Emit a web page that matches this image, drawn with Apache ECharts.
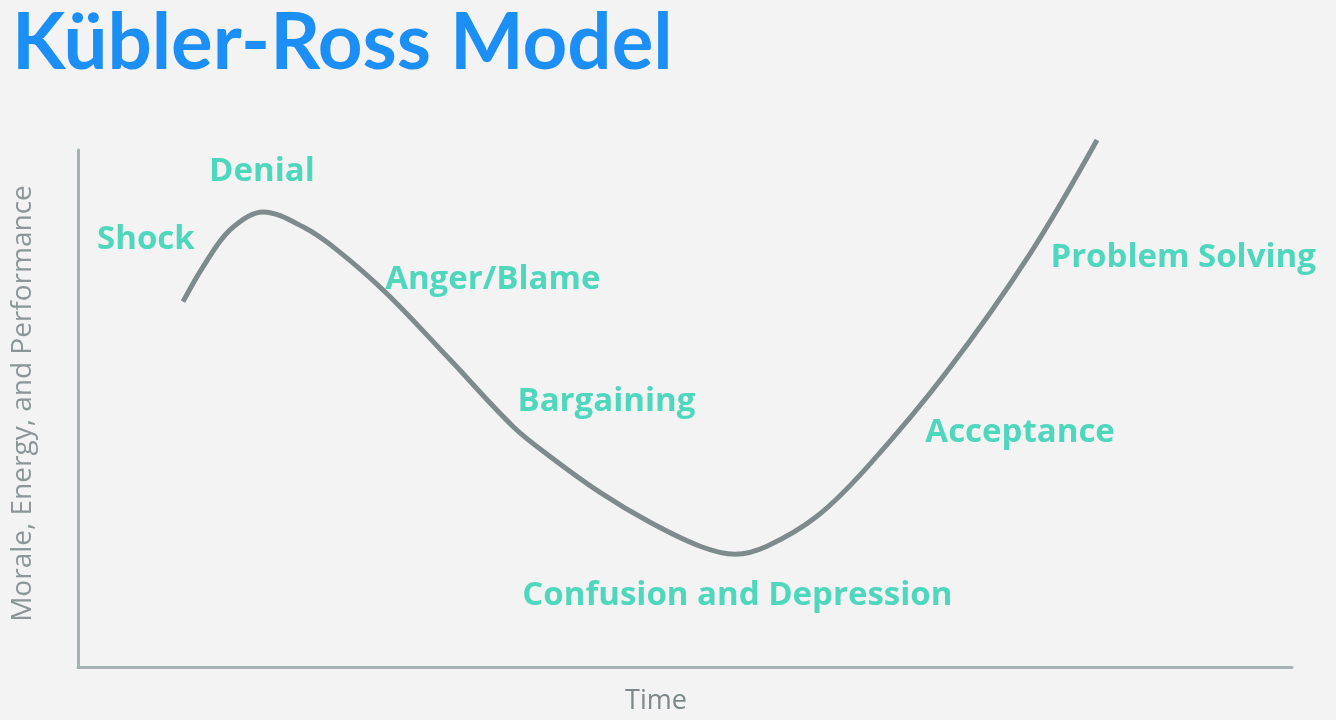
<!DOCTYPE html>
<html>
<head>
<meta charset="utf-8">
<script src="https://cdn.jsdelivr.net/npm/echarts@6/dist/echarts.min.js"></script>
<style>
html,body{margin:0;padding:0;background:#f3f3f3;}
#chart{width:1336px;height:720px;}
</style>
</head>
<body>
<div id="chart"></div>
<script>
// Curve (time, morale) in chart units
const curveX = [8.65, 10.30, 12.52, 15.24, 18.53, 21.33, 25.45, 30.64, 35.83, 38.88, 43.00, 47.12, 51.24, 54.12, 56.75, 60.87, 64.99, 71.58, 78.42, 83.94];
const curveY = [70.66, 77.41, 84.56, 88.03, 85.14, 80.69, 72.20, 59.46, 46.53, 40.73, 33.78, 27.99, 23.36, 21.81, 23.36, 29.15, 38.61, 57.14, 79.92, 101.93];

// Stage names and the chart-unit anchor of each label (left edge, middle)
const stageNames = ['Shock', 'Denial', 'Anger/Blame', 'Bargaining', 'Confusion and Depression', 'Acceptance', 'Problem Solving'];
const stageX = [1.57, 10.8, 25.3, 36.2, 36.6, 69.8, 80.1];
const stageY = [82.6, 95.9, 74.9, 51.3, 13.9, 45.4, 79.2];

const titleText = 'Kübler-Ross Model';
const xName = 'Time';
const yName = 'Morale, Energy, and Performance';

const chart = echarts.init(document.getElementById('chart'));
const axisCommon = {
  type: 'value', min: 0, max: 100,
  axisTick: {show: false}, axisLabel: {show: false}, splitLine: {show: false},
  axisLine: {show: true, lineStyle: {color: '#a6b3b5', width: 3}}
};
chart.setOption({
  backgroundColor: '#f3f3f3',
  animation: false,
  title: {
    text: titleText, left: 7, top: 0,
    textStyle: {fontFamily: 'Lato', fontWeight: 'bold', fontSize: 78, color: '#1b8ff5'}
  },
  grid: {left: 78, right: 44, top: 150, bottom: 52},
  xAxis: Object.assign({}, axisCommon, {
    name: xName, nameLocation: 'middle', nameGap: 21,
    nameTextStyle: {fontFamily: 'Open Sans', fontSize: 27, color: '#7c888a', padding: [0, 58, 0, 0], verticalAlign: 'top'}
  }),
  yAxis: Object.assign({}, axisCommon, {
    name: yName, nameLocation: 'middle', nameGap: 41,
    nameTextStyle: {fontFamily: 'Open Sans', fontSize: 28, color: '#8a9698', padding: [0, 0, 0, 10]}
  }),
  series: [
    {
      type: 'line', smooth: 0.35, clip: false, symbol: 'none',
      data: curveX.map((x, i) => [x, curveY[i]]),
      lineStyle: {color: '#7e8b8c', width: 5, cap: 'butt'}
    },
    {
      type: 'scatter', symbolSize: 0, clip: false,
      data: stageNames.map((n, i) => ({name: n, value: [stageX[i], stageY[i]]})),
      label: {
        show: true, position: 'right', distance: 0,
        formatter: p => p.name,
        fontFamily: 'Open Sans', fontWeight: 'bold', fontSize: 33, color: '#26d0af'
      }
    }
  ]
});
</script>
</body>
</html>
